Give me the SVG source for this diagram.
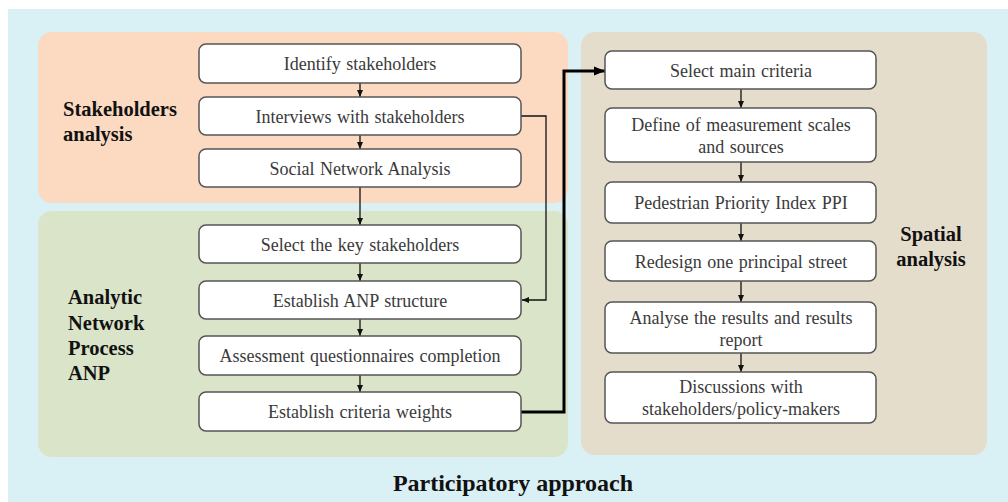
<svg xmlns="http://www.w3.org/2000/svg" width="1008" height="502" viewBox="0 0 1008 502">
<defs>
<style>
.box{fill:#fff;stroke:#555;stroke-width:1.5}
.t{font-family:'Liberation Serif',serif;font-size:18px;fill:#3a3a3a;text-anchor:middle;word-spacing:1px}
.h{font-family:'Liberation Serif',serif;font-size:20.5px;font-weight:bold;fill:#111}
.p{font-family:'Liberation Serif',serif;font-size:24px;font-weight:bold;fill:#111;text-anchor:middle}
.c{fill:none;stroke:#111;stroke-width:1.3}
.ck{fill:none;stroke:#000;stroke-width:3}
</style>
<marker id="a" markerUnits="userSpaceOnUse" markerWidth="8" markerHeight="8" refX="7" refY="4" orient="auto"><path d="M0,1 L7,4 L0,7 Z" fill="#111"/></marker>
<marker id="ak" markerUnits="userSpaceOnUse" markerWidth="12" markerHeight="10" refX="11" refY="5" orient="auto"><path d="M0,0.5 L11,5 L0,9.5 Z" fill="#000"/></marker>
</defs>
<rect x="8" y="9" width="1000" height="493" fill="#d9f0f5"/>
<rect x="38" y="32" width="530" height="171" rx="14" fill="#fcd9c1"/>
<rect x="38" y="211" width="530" height="246" rx="14" fill="#d9e4c8"/>
<rect x="581" y="32" width="406" height="423" rx="14" fill="#e5ddcb"/>
<text class="h" x="63" y="116">Stakeholders</text>
<text class="h" x="63" y="141">analysis</text>
<text class="h" x="68" y="304">Analytic</text>
<text class="h" x="68" y="330">Network</text>
<text class="h" x="68" y="355">Process</text>
<text class="h" x="68" y="380">ANP</text>
<text class="h" x="931" y="241" text-anchor="middle">Spatial</text>
<text class="h" x="931" y="266" text-anchor="middle">analysis</text>
<text class="p" x="513" y="491">Participatory approach</text>
<g id="connectors">
<line class="c" x1="360" y1="83" x2="360" y2="97" marker-end="url(#a)"/>
<line class="c" x1="360" y1="135" x2="360" y2="149" marker-end="url(#a)"/>
<line class="c" x1="360" y1="187" x2="360" y2="225" marker-end="url(#a)"/>
<line class="c" x1="360" y1="263" x2="360" y2="281" marker-end="url(#a)"/>
<line class="c" x1="360" y1="319" x2="360" y2="336" marker-end="url(#a)"/>
<line class="c" x1="360" y1="375" x2="360" y2="392" marker-end="url(#a)"/>
<line class="c" x1="741" y1="89" x2="741" y2="108" marker-end="url(#a)"/>
<line class="c" x1="741" y1="162" x2="741" y2="182" marker-end="url(#a)"/>
<line class="c" x1="741" y1="223" x2="741" y2="241" marker-end="url(#a)"/>
<line class="c" x1="741" y1="281" x2="741" y2="302" marker-end="url(#a)"/>
<line class="c" x1="741" y1="353" x2="741" y2="372" marker-end="url(#a)"/>
<polyline class="c" points="521,116 546,116 546,300 522,300" marker-end="url(#a)"/>
<polyline class="ck" points="521,412 564,412 564,71 605,71" marker-end="url(#ak)"/>
</g>
<g id="n1"><rect class="box" x="199" y="44" width="322" height="39" rx="7"/><text class="t" x="360" y="69.5">Identify stakeholders</text></g>
<g id="n2"><rect class="box" x="199" y="97" width="322" height="38" rx="7"/><text class="t" x="360" y="122.5">Interviews with stakeholders</text></g>
<g id="n3"><rect class="box" x="199" y="149" width="322" height="38" rx="7"/><text class="t" x="360" y="174.5">Social Network Analysis</text></g>
<g id="n4"><rect class="box" x="199" y="225" width="322" height="38" rx="7"/><text class="t" x="360" y="250.5">Select the key stakeholders</text></g>
<g id="n5"><rect class="box" x="199" y="281" width="322" height="38" rx="7"/><text class="t" x="360" y="306.5">Establish ANP structure</text></g>
<g id="n6"><rect class="box" x="199" y="336" width="322" height="39" rx="7"/><text class="t" x="360" y="361.5">Assessment questionnaires completion</text></g>
<g id="n7"><rect class="box" x="199" y="392" width="322" height="39" rx="7"/><text class="t" x="360" y="417.5">Establish criteria weights</text></g>
<g id="r1"><rect class="box" x="605" y="51" width="271" height="38" rx="7"/><text class="t" x="741" y="77">Select main criteria</text></g>
<g id="r2"><rect class="box" x="605" y="108" width="271" height="54" rx="7"/><text class="t" x="741" y="131">Define of measurement scales</text><text class="t" x="741" y="153">and sources</text></g>
<g id="r3"><rect class="box" x="605" y="182" width="271" height="41" rx="7"/><text class="t" x="741" y="208.5">Pedestrian Priority Index PPI</text></g>
<g id="r4"><rect class="box" x="605" y="241" width="271" height="40" rx="7"/><text class="t" x="741" y="267.5">Redesign one principal street</text></g>
<g id="r5"><rect class="box" x="605" y="302" width="271" height="51" rx="7"/><text class="t" x="741" y="324">Analyse the results and results</text><text class="t" x="741" y="346">report</text></g>
<g id="r6"><rect class="box" x="605" y="372" width="271" height="51" rx="7"/><text class="t" x="741" y="393">Discussions with</text><text class="t" x="741" y="415">stakeholders/policy-makers</text></g>
</svg>
